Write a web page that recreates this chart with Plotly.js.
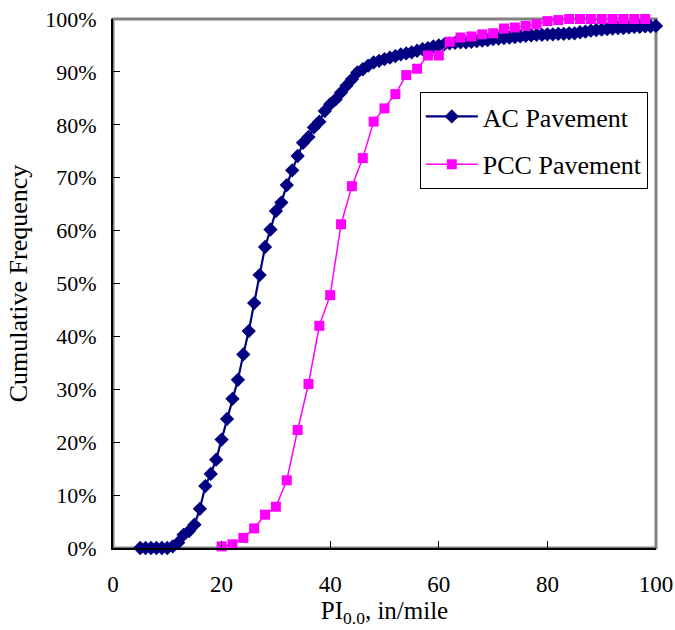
<!DOCTYPE html>
<html>
<head>
<meta charset="utf-8">
<script src="https://cdn.plot.ly/plotly-3.0.1.min.js"></script>
<style>html,body{margin:0;padding:0;background:#fff;}#chart{width:675px;height:630px;}</style>
</head>
<body>
<div id="chart"></div>
<script>
// AC pavement: PI0.0 (in/mile) vs cumulative frequency (%)
const acX = [5,6,7,8,9,10,11,12,13,14,15,16,17,18,19,20,21,22,23,24,25,26,27,28,29,30,
  31,32,33,34,35,36,37,38,39,40,41,42,43,44,45,46,47,48,49,50,51,52,53,54,55,56,57,58,59,60,
  61,62,63,64,65,66,67,68,69,70,71,72,73,74,75,76,77,78,79,80,81,82,83,84,85,86,87,88,89,90,
  91,92,93,94,95,96,97,98,99,100];
const acY = [0,0,0,0,0,0,0.3,1.0,2.5,3.2,4.4,7.4,11.7,14.0,16.7,20.5,24.4,28.2,31.8,36.6,41.0,46.3,51.6,56.9,60.2,63.7,
  65.3,68.6,71.4,74.1,76.6,77.7,79.5,80.6,82.6,83.9,84.8,86.1,87.4,88.6,89.9,90.5,91.2,91.8,92.1,92.4,92.7,93.0,93.3,93.5,93.7,94.0,94.3,94.5,94.8,95.0,
  95.2,95.4,95.5,95.6,95.6,95.7,95.8,95.9,96.0,96.2,96.3,96.4,96.5,96.6,96.7,96.8,96.9,97.0,97.0,97.1,97.1,97.2,97.2,97.3,97.3,97.5,97.6,97.8,97.9,98.0,
  98.1,98.2,98.3,98.3,98.4,98.5,98.5,98.6,98.6,98.7];
// PCC pavement
const pccX = [20,22,24,26,28,30,32,34,36,38,40,42,44,46,48,50,52,54,56,58,60,
  62,64,66,68,70,72,74,76,78,80,82,84,86,88,90,92,94,96,98];
const pccY = [0.3,0.7,1.9,3.7,6.3,7.8,12.8,22.3,31.0,42.0,47.8,61.2,68.4,73.7,80.6,83.1,85.8,89.4,90.6,93.1,93.1,
  95.7,96.5,96.7,97.1,97.3,98.2,98.4,98.7,99.0,99.6,99.8,100,100,100,100,100,100,100,100];
const xTicks = [0,20,40,60,80,100];
const yTicks = [0,10,20,30,40,50,60,70,80,90,100];

const font = 'Liberation Serif';

const traces = [
  {x: acX, y: acY, name: 'AC Pavement', type: 'scatter', mode: 'lines+markers',
   legendgroup: 'a', cliponaxis: false,
   line: {color: '#000080', width: 2.2}, marker: {symbol: 'diamond', size: 11, color: '#000080'}},
  {x: pccX, y: pccY, name: 'PCC Pavement', type: 'scatter', mode: 'lines+markers',
   legendgroup: 'b', cliponaxis: false,
   line: {color: '#FF00FF', width: 1.5}, marker: {symbol: 'square', size: 10, color: '#FF00FF'}}
];

const layout = {
  width: 675, height: 630,
  margin: {l: 113, r: 19, t: 19, b: 82},
  paper_bgcolor: '#fff', plot_bgcolor: '#fff',
  font: {family: font, color: '#000', size: 22},
  showlegend: true,
  legend: {x: 0.565, y: 0.862, xanchor: 'left', yanchor: 'top',
    bgcolor: '#fff', bordercolor: '#000', borderwidth: 1,
    font: {family: font, size: 26, color: '#000'},
    traceorder: 'grouped', tracegroupgap: 11, itemwidth: 52},
  xaxis: {range: [0, 100], tickvals: xTicks, ticktext: xTicks.map(String),
    ticks: 'inside', ticklen: 7, tickcolor: '#000', tickwidth: 1,
    showgrid: false, zeroline: false, showline: true, linecolor: '#000', linewidth: 2,
    ticklabelstandoff: 14,
    tickfont: {family: font, size: 23},
    title: {text: 'PI<sub>0.0</sub>, in/mile', font: {family: font, size: 25}, standoff: 6}},
  yaxis: {range: [0, 100], tickvals: yTicks, ticktext: yTicks.map(v => v + '%'),
    ticks: 'inside', ticklen: 7, tickcolor: '#000', tickwidth: 1,
    showgrid: false, zeroline: false, showline: true, linecolor: '#000', linewidth: 2,
    ticklabelstandoff: 10,
    tickfont: {family: font, size: 22},
    title: {text: 'Cumulative Frequency', font: {family: font, size: 26}, standoff: 10}},
  shapes: [{type: 'rect', xref: 'paper', yref: 'paper', x0: 0, x1: 1, y0: 0, y1: 1,
    line: {color: '#808080', width: 3}, layer: 'below'}]
};

Plotly.newPlot('chart', traces, layout, {staticPlot: true, displayModeBar: false});
</script>
</body>
</html>
